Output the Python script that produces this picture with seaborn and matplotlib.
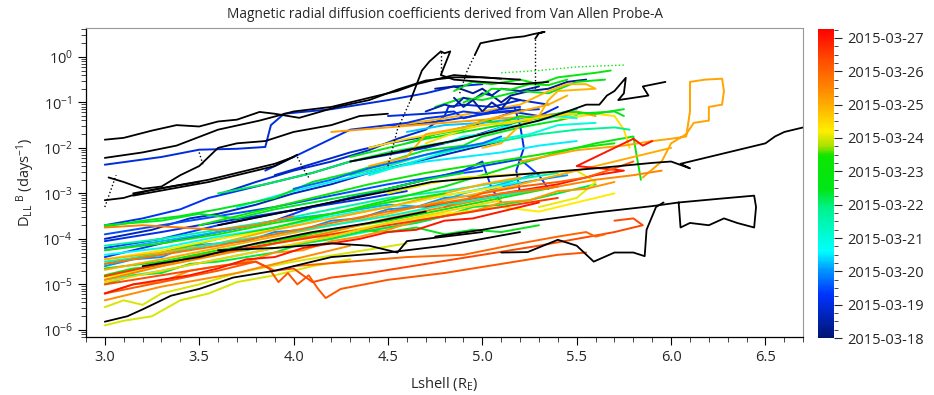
import numpy as np
import pandas as pd
import matplotlib
matplotlib.use("Agg")
import matplotlib.pyplot as plt
import seaborn as sns
from matplotlib.colors import LinearSegmentedColormap, Normalize
from matplotlib.cm import ScalarMappable
from matplotlib.ticker import LogLocator, MultipleLocator, NullFormatter

# colour-coded traces: day offset from 2015-03-18, Lshell and log10(D_LL^B)
color_day = [1.0, 0.9, 1.1, 1.2, 0.7, 1.4, 0.3, 1.0, 1.3, 1.5, 0.8, 1.0, 1.1,
             2.0, 2.2, 2.5, 2.8, 3.0, 2.6, 2.3, 3.6,
             4.5, 4.9, 4.7, 5.0, 4.3, 4.6, 4.8, 5.2, 5.4, 4.2, 4.4,
             6.0, 6.2, 6.4, 6.1, 6.3, 6.0,
             7.1, 7.0, 7.3, 6.9, 7.5, 7.2, 7.0, 7.4, 7.6,
             8.2, 8.4, 8.0, 8.6, 9.0, 9.0, 8.1,
             0.6, 1.2, 4.6, 5.1, 2.7, 3.8, 6.5, 7.0, 1.7, 0.4,
             3.3, 6.6, 7.8, 5.3]
color_L = [
    [3.0, 3.3, 3.5, 3.7, 3.85, 3.88, 3.95, 4.2, 4.5, 4.7, 4.85, 5.0],
    [3.62, 3.8, 4.0, 4.2, 4.4, 4.55, 4.7, 4.8, 4.82, 4.9, 5.05, 5.2, 5.35],
    [3.85, 4.0, 4.15, 4.3, 4.5, 4.65, 4.8, 4.95, 5.1, 5.3],
    [3.0, 3.2, 3.4, 3.55, 3.7, 3.9, 4.1, 4.3, 4.5, 4.7, 4.9, 5.1, 5.2],
    [3.0, 3.25, 3.45, 3.6, 3.8, 4.0, 4.2, 4.4, 4.55, 4.75, 4.95, 5.1],
    [3.0, 3.3, 3.6, 3.9, 4.2, 4.4, 4.6, 4.8, 5.0, 5.2, 5.3, 5.35],
    [4.75, 4.85, 4.95, 5.0, 5.1, 5.15, 5.25, 5.35, 5.45, 5.55],
    [4.5, 4.7, 4.85, 4.9, 5.0, 5.15, 5.3, 5.4],
    [3.0, 3.3, 3.6, 3.9, 4.1, 4.3, 4.5, 4.7, 4.9, 5.0, 5.05, 5.1],
    [3.0, 3.3, 3.6, 3.9, 4.2, 4.5, 4.8, 5.0],
    [3.9, 4.1, 4.3, 4.5, 4.7, 4.85, 5.0, 5.1, 5.2],
    [5.2, 5.18, 5.22, 5.2, 5.17],
    [3.0, 3.3, 3.5, 3.8, 4.1, 4.4, 4.6],
    [3.0, 3.15, 3.3, 3.45, 3.6, 3.75, 3.9, 4.05, 4.2, 4.35, 4.5, 4.65, 4.8, 4.95, 5.1, 5.3, 5.45],
    [3.0, 3.3, 3.6, 3.9, 4.2, 4.5, 4.7, 4.9, 5.1, 5.3],
    [3.7, 4.0, 4.3, 4.5, 4.7, 4.9, 5.1, 5.3, 5.5],
    [3.0, 3.3, 3.6, 3.9, 4.2, 4.5, 4.7, 4.9, 5.1],
    [4.4, 4.6, 4.8, 4.95, 5.1, 5.25, 5.4, 5.6],
    [3.0, 3.3, 3.6, 3.9, 4.2, 4.5, 4.8, 5.0, 5.2],
    [4.6, 4.8, 5.0, 5.2, 5.4, 5.5],
    [3.0, 3.3, 3.6, 3.9, 4.2, 4.5, 4.8, 5.1, 5.4],
    [3.0, 3.2, 3.4, 3.6, 3.9, 4.1, 4.3, 4.5, 4.7, 4.9, 5.0, 5.2, 5.4, 5.5],
    [4.85, 4.95, 5.05, 5.2, 5.3, 5.4, 5.5, 5.6, 5.68],
    [4.75, 4.9, 5.0, 5.2, 5.35, 5.5, 5.65],
    [3.0, 3.3, 3.6, 3.9, 4.2, 4.5, 4.8, 5.0, 5.2, 5.4, 5.6, 5.8, 5.84],
    [3.0, 3.15, 3.3, 3.45, 3.6, 3.75, 3.9, 4.05, 4.2, 4.35, 4.5, 4.65, 4.8, 4.95, 5.1, 5.25, 5.4, 5.6],
    [3.0, 3.15, 3.3, 3.45, 3.6, 3.75, 3.9, 4.05, 4.2, 4.35, 4.5, 4.65, 4.8, 4.95, 5.1, 5.3],
    [4.3, 4.5, 4.7, 4.9, 5.1, 5.3, 5.5, 5.7, 5.75],
    [3.0, 3.3, 3.6, 3.9, 4.2, 4.5, 4.8, 5.1, 5.4],
    [3.5, 3.8, 4.1, 4.4, 4.7, 5.0, 5.3, 5.5, 5.7],
    [3.6, 3.85, 4.1, 4.3, 4.5, 4.7, 4.85, 5.0],
    [3.0, 3.3, 3.5, 3.7, 3.9, 4.1, 4.3, 4.5, 4.7, 4.9],
    [3.0, 3.1, 3.25, 3.4, 3.55, 3.7, 3.9, 4.1, 4.3],
    [3.0, 3.3, 3.6, 3.9, 4.2, 4.5, 4.8, 5.1, 5.3, 5.5, 5.7],
    [4.7, 4.9, 5.0, 5.15, 5.3, 5.45, 5.6, 5.7, 5.75, 5.78],
    [4.5, 4.7, 4.9, 5.1, 5.3, 5.5, 5.6, 5.5, 5.3],
    [3.0, 3.3, 3.6, 3.9, 4.2, 4.5, 4.8, 5.1],
    [3.0, 3.1, 3.2, 3.3, 3.5, 3.7, 4.0, 4.3, 4.6],
    [5.2, 5.5, 5.75, 5.9, 6.0, 6.08, 6.1, 6.1, 6.18, 6.27, 6.28, 6.27, 6.2, 6.2, 6.12, 6.08, 6.0, 5.95, 5.85],
    [3.0, 3.3, 3.6, 3.9, 4.2, 4.5, 4.8, 5.1, 5.4, 5.7, 5.9, 6.0],
    [3.0, 3.15, 3.3, 3.45, 3.6, 3.75, 3.9, 4.05, 4.2, 4.35, 4.5, 4.65, 4.8, 4.95, 5.1, 5.25, 5.4, 5.55, 5.7],
    [4.55, 4.8, 5.0, 5.2, 5.35, 5.45, 5.55, 5.6, 5.4, 5.35, 5.3, 5.2, 5.1, 5.0],
    [3.0, 3.3, 3.6, 3.9, 4.2, 4.5, 4.8, 5.1, 5.4, 5.6, 5.8, 5.95],
    [4.2, 4.5, 4.8, 5.1, 5.3, 5.5, 5.6],
    [3.0, 3.3, 3.6, 3.9, 4.2, 4.5, 4.8, 5.0, 5.2],
    [3.0, 3.15, 3.3, 3.5, 3.7, 3.9, 4.1, 4.3],
    [3.0, 3.2, 3.4, 3.6, 3.8, 4.0],
    [3.0, 3.3, 3.6, 3.8, 3.87, 3.92, 3.97, 4.02, 4.08, 4.13, 4.17, 4.25, 4.5, 4.8, 5.1, 5.4, 5.55],
    [3.0, 3.3, 3.6, 3.8, 3.9, 4.0, 4.1, 4.2, 4.4, 4.7, 5.0, 5.3, 5.5, 5.7, 5.85, 5.8, 5.7],
    [4.0, 4.3, 4.6, 4.9, 5.2, 5.4, 5.55, 5.6, 5.65],
    [3.0, 3.3, 3.6, 3.9, 4.2, 4.5, 4.8, 5.1, 5.4],
    [4.7, 4.9, 5.15, 5.4, 5.6, 5.75, 5.5, 5.6, 5.7, 5.8, 5.85, 5.9],
    [3.0, 3.15, 3.3, 3.45, 3.6, 3.75, 3.9, 4.05, 4.2, 4.35, 4.5, 4.65, 4.8, 4.95, 5.1, 5.3],
    [4.8, 5.0, 5.2, 5.4, 5.55, 5.7, 5.8],
    [4.7, 4.8, 4.85, 4.9, 4.95, 5.0, 5.05, 5.1, 5.2, 5.3],
    [4.5, 4.6, 4.7, 4.8, 4.9, 5.0, 5.1, 5.2],
    [4.6, 4.75, 4.9, 5.0, 5.1, 5.2, 5.3, 5.45, 5.6, 5.75],
    [4.9, 5.0, 5.05, 5.15, 5.25, 5.35, 5.45],
    [4.8, 4.9, 5.0, 5.1, 5.2, 5.3, 5.4, 5.5],
    [4.3, 4.5, 4.7, 4.9, 5.1, 5.3, 5.5, 5.7, 5.78],
    [4.4, 4.6, 4.8, 5.0, 5.2, 5.35, 5.5],
    [4.4, 4.6, 4.7, 4.9, 5.05, 5.2, 5.35, 5.45],
    [4.0, 4.2, 4.4, 4.6, 4.8, 5.0, 5.1],
    [4.85, 4.9, 4.95, 5.0, 5.05, 5.1, 5.15, 5.2],
    [3.0, 3.3, 3.6, 3.9, 4.2, 4.5, 4.8, 5.1, 5.3],
    [3.0, 3.3, 3.6, 3.9, 4.2, 4.5, 4.8, 5.1],
    [3.0, 3.3, 3.6, 3.9, 4.2, 4.5, 4.8, 5.1, 5.4],
    [3.0, 3.3, 3.6, 3.9, 4.2, 4.5, 4.8],
]
color_logD = [
    [-2.37, -2.2, -2.04, -2.02, -1.98, -1.5, -1.25, -1.15, -0.95, -0.8, -0.65, -0.6],
    [-3.0, -2.75, -2.5, -2.3, -2.05, -1.8, -1.6, -1.3, -1.1, -1.05, -1.1, -0.95, -1.05],
    [-2.5, -2.2, -1.9, -1.6, -1.5, -1.48, -1.4, -1.3, -1.2, -1.15],
    [-3.7, -3.55, -3.35, -3.1, -2.95, -2.75, -2.55, -2.3, -2.15, -2.0, -1.8, -1.55, -1.4],
    [-4.0, -3.8, -3.55, -3.45, -3.25, -3.0, -2.8, -2.55, -2.4, -2.2, -2.0, -1.85],
    [-4.2, -4.0, -3.7, -3.45, -3.2, -3.0, -2.8, -2.6, -2.4, -2.25, -2.6, -2.9],
    [-0.7, -0.65, -0.8, -0.7, -1.0, -0.85, -0.75, -0.7, -0.55, -0.5],
    [-1.3, -1.25, -1.2, -1.35, -1.25, -1.2, -1.3, -1.1],
    [-4.4, -4.1, -3.85, -3.6, -3.3, -3.1, -2.9, -2.7, -2.5, -2.3, -2.9, -3.2],
    [-3.9, -3.7, -3.5, -3.3, -3.05, -2.8, -2.6, -2.5],
    [-2.6, -2.35, -2.1, -1.9, -1.75, -1.6, -1.45, -1.3, -1.15],
    [-3.0, -2.5, -2.0, -1.5, -1.1],
    [-4.05, -3.85, -3.7, -3.5, -3.3, -3.1, -2.95],
    [-4.6, -4.45, -4.4, -4.15, -4.1, -4.05, -3.85, -3.8, -3.6, -3.55, -3.35, -3.3, -3.1, -3.05, -2.85, -2.7, -2.6],
    [-4.25, -4.05, -3.85, -3.6, -3.45, -3.25, -3.3, -3.0, -2.8, -2.55],
    [-3.3, -2.95, -2.65, -2.45, -2.3, -2.2, -2.1, -1.95, -1.85],
    [-4.9, -4.7, -4.45, -4.2, -4.0, -3.75, -3.6, -3.4, -3.3],
    [-2.6, -2.35, -2.1, -1.95, -1.8, -1.7, -1.5, -1.45],
    [-4.35, -4.2, -3.95, -3.75, -3.5, -3.3, -3.05, -2.9, -2.75],
    [-1.65, -1.5, -1.45, -1.35, -1.25, -1.15],
    [-4.15, -4.0, -3.8, -3.6, -3.35, -3.1, -2.95, -2.75, -2.55],
    [-3.73, -3.6, -3.5, -3.35, -3.1, -2.75, -2.55, -2.3, -2.05, -1.95, -1.75, -1.55, -1.4, -1.3],
    [-0.75, -0.55, -0.6, -0.5, -0.6, -0.45, -0.4, -0.35, -0.3],
    [-1.1, -0.9, -0.95, -0.75, -0.8, -0.55, -0.5],
    [-4.55, -4.3, -4.0, -3.75, -3.45, -3.15, -2.85, -2.6, -2.35, -2.1, -1.9, -1.75, -2.7],
    [-5.0, -4.8, -4.75, -4.55, -4.5, -4.4, -4.3, -4.1, -4.0, -3.85, -3.75, -3.65, -3.5, -3.3, -3.25, -3.15, -3.0, -2.8],
    [-4.8, -4.65, -4.6, -4.4, -4.3, -4.25, -4.1, -3.95, -3.95, -3.8, -3.85, -3.75, -3.9, -3.8, -3.85, -3.7],
    [-2.2, -2.0, -1.8, -1.65, -1.5, -1.35, -1.25, -1.2, -1.3],
    [-4.65, -4.5, -4.25, -4.05, -3.8, -3.6, -3.35, -3.1, -2.85],
    [-3.7, -3.4, -3.1, -2.8, -2.55, -2.35, -2.15, -2.0, -1.9],
    [-3.0, -2.8, -2.55, -2.3, -2.1, -1.95, -1.85, -1.7],
    [-3.7, -3.6, -3.45, -3.55, -3.35, -3.2, -3.05, -2.9, -2.7, -2.55],
    [-5.9, -5.8, -5.7, -5.35, -5.2, -4.95, -4.8, -4.6, -4.45],
    [-4.85, -4.6, -4.35, -4.1, -3.9, -3.65, -3.45, -3.3, -3.4, -3.2, -3.0],
    [-1.9, -1.6, -1.5, -1.45, -1.3, -1.35, -1.25, -1.3, -1.6, -2.0],
    [-3.0, -2.8, -2.65, -2.6, -2.55, -2.5, -2.75, -3.1, -3.3],
    [-4.45, -4.25, -4.0, -3.8, -3.55, -3.3, -3.05, -2.85],
    [-5.5, -5.35, -5.45, -5.2, -5.0, -4.75, -4.5, -4.3, -4.1],
    [-2.3, -2.05, -1.95, -1.85, -1.8, -1.75, -1.2, -0.55, -0.5, -0.48, -0.75, -1.05, -1.1, -1.4, -1.45, -1.7, -1.9, -2.3, -2.65],
    [-4.68, -4.45, -4.2, -3.95, -3.7, -3.45, -3.15, -2.9, -2.6, -2.3, -2.1, -2.0],
    [-5.2, -5.0, -4.95, -4.7, -4.6, -4.5, -4.3, -4.25, -4.05, -3.95, -3.8, -3.6, -3.5, -3.4, -3.2, -3.15, -2.95, -2.9, -2.75],
    [-1.5, -1.35, -1.2, -1.05, -0.75, -0.6, -0.6, -0.7, -0.75, -0.95, -1.3, -1.5, -1.9, -2.0],
    [-4.9, -4.6, -4.35, -4.1, -3.85, -3.55, -3.3, -3.05, -2.85, -2.7, -2.6, -2.5],
    [-1.65, -1.55, -1.45, -1.35, -1.3, -1.2, -1.3],
    [-4.45, -4.3, -4.1, -3.8, -3.55, -3.3, -3.0, -2.8, -2.65],
    [-5.35, -5.2, -5.05, -4.9, -4.75, -4.55, -4.35, -4.15],
    [-3.75, -3.7, -3.75, -3.8, -3.7, -3.5],
    [-5.2, -4.95, -4.7, -4.5, -4.65, -4.95, -4.75, -5.0, -4.8, -5.1, -5.3, -5.1, -4.9, -4.75, -4.55, -4.35, -4.3],
    [-5.0, -4.8, -4.6, -4.5, -4.7, -4.65, -4.95, -4.85, -4.75, -4.55, -4.35, -4.15, -4.0, -3.85, -3.7, -3.55, -3.6],
    [-4.6, -4.5, -4.4, -4.35, -4.1, -3.95, -3.85, -3.95, -3.9],
    [-4.82, -4.55, -4.3, -4.1, -3.9, -3.7, -3.5, -3.3, -3.1],
    [-3.3, -3.15, -2.97, -2.8, -2.6, -2.5, -2.4, -2.2, -2.0, -1.8, -1.95, -1.85],
    [-5.2, -5.0, -4.9, -4.8, -4.65, -4.45, -4.4, -4.2, -4.1, -4.0, -3.85, -3.8, -3.6, -3.55, -3.4, -3.2],
    [-3.3, -3.0, -2.85, -2.75, -2.65, -2.45, -2.3],
    [-1.2, -1.05, -1.1, -0.9, -0.95, -0.8, -0.85, -0.7, -0.75, -0.65],
    [-1.5, -1.45, -1.35, -1.3, -1.2, -1.25, -1.15, -1.1],
    [-1.9, -1.7, -1.6, -1.4, -1.45, -1.3, -1.35, -1.2, -1.25, -1.15],
    [-1.0, -0.85, -0.7, -0.72, -0.6, -0.62, -0.5],
    [-1.9, -1.75, -1.7, -1.55, -1.5, -1.4, -1.3, -1.35],
    [-2.6, -2.4, -2.15, -2.0, -1.85, -1.7, -1.6, -1.55, -1.6],
    [-2.0, -1.8, -1.65, -1.5, -1.4, -1.3, -1.25],
    [-2.4, -2.2, -1.7, -1.55, -1.35, -1.2, -1.05, -0.85],
    [-2.9, -2.7, -2.45, -2.25, -2.05, -1.9, -1.75],
    [-0.9, -1.1, -0.95, -1.2, -1.0, -1.15, -0.9, -0.95],
    [-4.5, -4.35, -4.1, -3.9, -3.7, -3.5, -3.25, -3.05, -2.9],
    [-4.95, -4.7, -4.45, -4.2, -3.95, -3.65, -3.4, -3.15],
    [-4.55, -4.35, -4.15, -3.9, -3.65, -3.4, -3.2, -3.0, -2.85],
    [-4.25, -4.1, -3.9, -3.65, -3.45, -3.2, -3.0],
]

# traces outside the colour range (drawn in black)
black_L = [
    [3.0, 3.1, 3.25, 3.38, 3.5, 3.6, 3.7, 3.82, 3.9, 4.03, 4.13, 4.23, 4.4, 4.55, 4.7, 4.85, 5.0, 5.1],
    [3.0, 3.2, 3.38, 3.6, 3.82, 4.0, 4.2, 4.4, 4.55, 4.65, 4.75, 4.85, 5.0, 5.2],
    [4.62, 4.68, 4.72, 4.78, 4.8, 4.83, 4.78, 4.85, 5.0, 5.2, 5.35],
    [4.96, 4.99, 5.05, 5.15, 5.22, 5.27, 5.33, 5.3, 5.28],
    [4.3, 4.6, 4.9, 5.1, 5.3, 5.45, 5.55, 5.62, 5.66, 5.7, 5.76, 5.75, 5.72, 5.8, 5.88, 5.85, 5.97],
    [3.6, 3.9, 4.2, 4.5, 4.73, 5.0, 5.3, 5.6, 5.9, 6.0, 6.1, 6.05, 6.2, 6.4, 6.5, 6.55, 6.6, 6.7],
    [4.75, 5.0, 5.25, 5.6, 5.9, 6.04, 6.25, 6.44, 6.45, 6.44, 6.35, 6.28, 6.2, 6.1, 6.05, 6.04],
    [5.1, 5.24, 5.4, 5.5, 5.59, 5.7, 5.8, 5.86, 5.87, 5.92, 5.96],
    [3.0, 3.12, 3.2, 3.35, 3.5, 3.68, 3.9, 4.2, 4.5, 4.8, 5.0, 5.2],
    [3.02, 3.1, 3.2, 3.3, 3.4, 3.5, 3.6, 3.7, 3.85, 4.0, 4.2, 4.35, 4.5],
    [3.15, 3.35, 3.55, 3.75, 3.9, 4.0],
    [3.15, 3.35, 3.55, 3.75, 3.9, 4.02],
    [3.0, 3.1, 3.22, 3.35, 3.5],
    [3.6, 3.9, 4.2, 4.4, 4.55, 4.6, 4.8, 5.0],
    [3.2, 3.5, 3.8, 4.1, 4.4, 4.7],
]
black_logD = [
    [-1.82, -1.78, -1.62, -1.5, -1.53, -1.42, -1.38, -1.21, -1.25, -1.34, -1.22, -1.1, -0.95, -0.72, -0.52, -0.45, -0.45, -0.48],
    [-2.22, -2.1, -1.95, -1.6, -1.4, -1.2, -1.1, -0.9, -0.75, -0.6, -0.5, -0.4, -0.45, -0.5],
    [-0.95, -0.3, -0.1, 0.12, 0.08, 0.12, -0.4, -0.5, -0.55, -0.6, -0.55],
    [0.04, 0.3, 0.35, 0.42, 0.45, 0.5, 0.55, 0.52, 0.4],
    [-2.3, -2.05, -1.8, -1.6, -1.4, -1.2, -1.05, -1.05, -0.85, -0.75, -0.46, -0.8, -0.95, -0.9, -0.85, -0.65, -0.55],
    [-3.7, -3.45, -3.2, -2.95, -2.75, -2.65, -2.55, -2.45, -2.33, -2.3, -2.45, -2.35, -2.2, -2.0, -1.9, -1.75, -1.65, -1.55],
    [-3.95, -3.8, -3.62, -3.42, -3.28, -3.2, -3.12, -3.05, -3.3, -3.75, -3.65, -3.55, -3.7, -3.65, -3.75, -3.2],
    [-4.3, -4.29, -4.02, -4.15, -4.5, -4.3, -4.3, -4.38, -3.8, -3.3, -3.2],
    [-5.82, -5.7, -5.55, -5.25, -5.1, -4.85, -4.7, -4.4, -4.3, -4.15, -4.0, -3.85],
    [-2.65, -2.75, -2.9, -2.85, -2.6, -2.4, -2.0, -1.9, -1.85, -1.65, -1.5, -1.3, -1.25],
    [-3.0, -2.85, -2.7, -2.5, -2.35, -2.2],
    [-3.05, -2.9, -2.75, -2.55, -2.4, -2.15],
    [-3.15, -3.1, -2.95, -2.85, -2.75],
    [-4.25, -4.2, -4.1, -4.15, -4.3, -4.05, -3.95, -3.85],
    [-4.6, -4.4, -4.1, -3.85, -3.65, -3.4],
]

# sparse (dotted) stretches
dot_L = [[4.78, 4.78], [5.28, 5.28], [4.5, 4.55, 4.62], [4.88, 4.92, 4.96],
         [4.02, 4.05, 4.08], [3.5, 3.52], [3.0, 3.03, 3.06]]
dot_logD = [[0.1, -0.4], [0.4, -0.7], [-2.4, -1.6, -0.95], [-0.8, -0.3, 0.04],
            [-2.2, -2.45, -2.65], [-2.1, -2.37], [-3.3, -2.95, -2.6]]

green_dot_L = [5.1, 5.3, 5.5, 5.75]
green_dot_logD = [-0.35, -0.3, -0.22, -0.18]
orange_dot_L = [6.08, 6.1, 6.1]
orange_dot_logD = [-1.75, -1.2, -0.55]

cbar_labels = ['2015-03-18', '2015-03-19', '2015-03-20', '2015-03-21', '2015-03-22',
               '2015-03-23', '2015-03-24', '2015-03-25', '2015-03-26', '2015-03-27']

sns.set_style("white")
plt.rcParams['font.family'] = ['Open Sans', 'DejaVu Sans']
plt.rcParams['mathtext.fontset'] = 'custom'
plt.rcParams['mathtext.rm'] = 'Open Sans'
plt.rcParams['mathtext.it'] = 'Open Sans'

cmap = LinearSegmentedColormap.from_list('probe', [
    (0.0, (0.0, 0.08, 0.45)), (0.14, (0.0, 0.2, 1.0)), (0.22, (0.0, 0.6, 1.0)),
    (0.28, (0.0, 1.0, 1.0)), (0.42, (0.0, 0.95, 0.55)), (0.48, (0.0, 0.9, 0.1)),
    (0.59, (0.05, 0.9, 0.0)), (0.62, (0.65, 0.88, 0.0)), (0.67, (1.0, 0.93, 0.0)),
    (0.80, (1.0, 0.55, 0.0)), (0.90, (1.0, 0.3, 0.0)), (1.0, (1.0, 0.0, 0.0))])
norm = Normalize(vmin=0, vmax=9.27)

fig = plt.figure(figsize=(9.34, 3.95), dpi=100)
ax = fig.add_axes([0.092, 0.147, 0.768, 0.782])
cax = fig.add_axes([0.876, 0.144, 0.017, 0.783])

for day, xs, ys in zip(color_day, color_L, color_logD):
    df = pd.DataFrame({'L': xs, 'D': 10.0 ** np.array(ys)})
    sns.lineplot(data=df, x='L', y='D', sort=False, estimator=None,
                 color=cmap(norm(day)), lw=1.4, ax=ax)

sns.lineplot(x=green_dot_L, y=10.0 ** np.array(green_dot_logD), sort=False, estimator=None,
             color=cmap(norm(4.9)), lw=1.0, ls=':', ax=ax)
sns.lineplot(x=orange_dot_L, y=10.0 ** np.array(orange_dot_logD), sort=False, estimator=None,
             color=cmap(norm(7.1)), lw=1.0, ls=':', ax=ax)

for xs, ys in zip(black_L, black_logD):
    sns.lineplot(x=xs, y=10.0 ** np.array(ys), sort=False, estimator=None,
                 color='black', lw=1.3, ax=ax)
for xs, ys in zip(dot_L, dot_logD):
    sns.lineplot(x=xs, y=10.0 ** np.array(ys), sort=False, estimator=None,
                 color='black', lw=1.0, ls=':', ax=ax)

ax.set_yscale('log')
ax.set_xlim(2.9, 6.7)
ax.set_ylim(7e-7, 4.3)
ax.xaxis.set_major_locator(MultipleLocator(0.5))
ax.xaxis.set_minor_locator(MultipleLocator(0.1))
ax.xaxis.set_major_formatter(matplotlib.ticker.FormatStrFormatter('%.1f'))
ax.yaxis.set_major_locator(LogLocator(base=10, numticks=10))
ax.yaxis.set_minor_locator(LogLocator(base=10, subs=np.arange(2, 10), numticks=20))
ax.yaxis.set_minor_formatter(NullFormatter())
ax.tick_params(which='major', direction='out', length=6, width=0.8, labelsize=10.5,
               left=True, bottom=True, color='black')
ax.tick_params(which='minor', direction='out', length=3.5, width=0.6, left=True, bottom=True)
for side in ['top', 'right']:
    ax.spines[side].set_color('#999999')
for side in ['left', 'bottom']:
    ax.spines[side].set_color('black')
    ax.spines[side].set_linewidth(0.9)

ax.set_xlabel('Lshell (R$_\\mathrm{E}$)', fontsize=10.5, labelpad=7)
ax.set_ylabel('D$_\\mathrm{LL}$$^{\\ \\mathrm{B}}$ (days$^\\mathrm{-1}$)', fontsize=10.5, labelpad=4)
ax.set_title('Magnetic radial diffusion coefficients derived from Van Allen Probe-A',
             fontsize=9.8, pad=7)

sm = ScalarMappable(norm=norm, cmap=cmap)
cb = fig.colorbar(sm, cax=cax)
cb.set_ticks(range(len(cbar_labels)))
cb.set_ticklabels(cbar_labels)
cb.ax.yaxis.set_minor_locator(MultipleLocator(0.25))
cb.ax.tick_params(which='major', length=6, width=0.8, labelsize=10.5)
cb.ax.tick_params(which='minor', length=3, width=0.6)
cb.outline.set_visible(False)

fig.savefig('out.png', dpi=100)
